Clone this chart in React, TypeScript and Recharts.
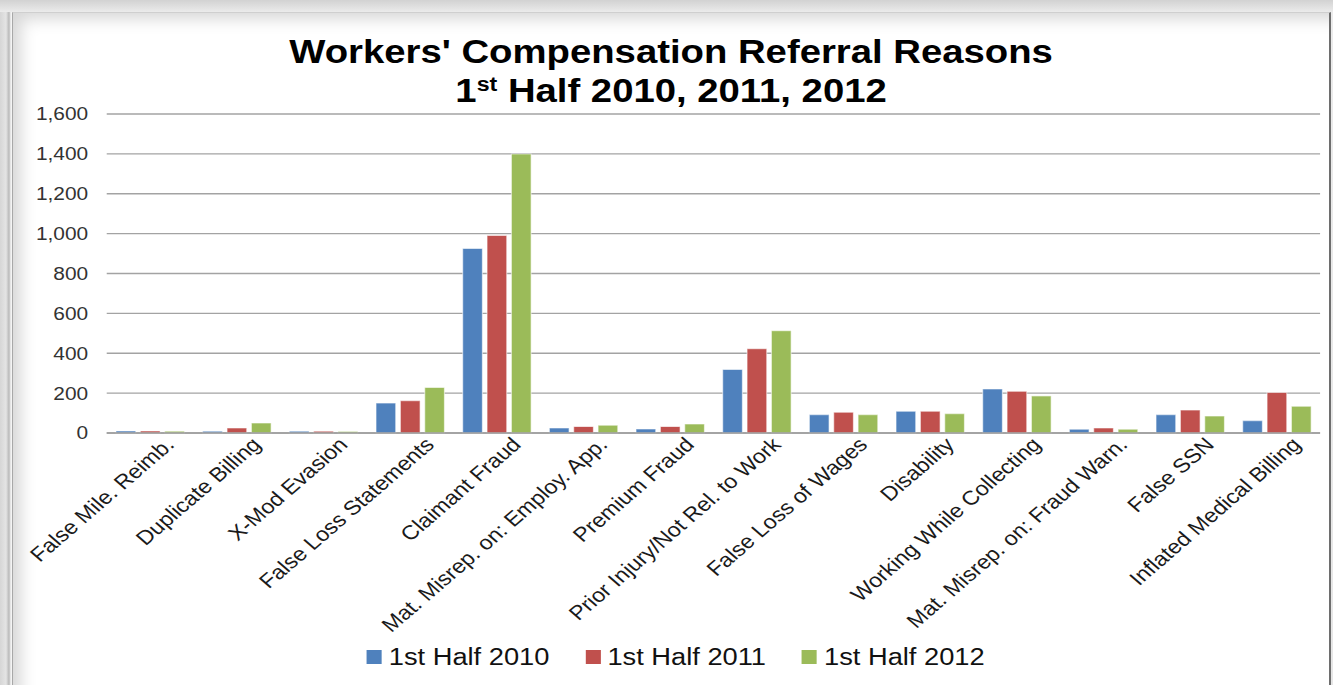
import React from 'react';
import { BarChart, Bar, XAxis, YAxis, CartesianGrid, Legend } from 'recharts';

const reasons = [
  'False Mile. Reimb.',
  'Duplicate Billing',
  'X-Mod Evasion',
  'False Loss Statements',
  'Claimant Fraud',
  'Mat. Misrep. on: Employ. App.',
  'Premium Fraud',
  'Prior Injury/Not Rel. to Work',
  'False Loss of Wages',
  'Disability',
  'Working While Collecting',
  'Mat. Misrep. on: Fraud Warn.',
  'False SSN',
  'Inflated Medical Billing',
];
const half2010 = [10, 9, 9, 150, 926, 25, 20, 318, 92, 109, 221, 19, 92, 62];
const half2011 = [10, 25, 9, 162, 991, 32, 32, 423, 104, 109, 209, 25, 115, 203];
const half2012 = [9, 50, 8, 228, 1400, 39, 45, 513, 92, 97, 186, 19, 85, 134];

const seriesKeys = ['h2010', 'h2011', 'h2012'];
const seriesNames = ['1st Half 2010', '1st Half 2011', '1st Half 2012'];
const seriesColors = ['#4F81BD', '#C0504D', '#9BBB59'];
const yTicks = [0, 200, 400, 600, 800, 1000, 1200, 1400, 1600];

const data = reasons.map((reason, i) => ({
  reason,
  h2010: half2010[i],
  h2011: half2011[i],
  h2012: half2012[i],
}));

// the source picture is stretched sideways, so the chart is drawn narrower and widened
const STRETCH = 1.16;
const W = 1333;
const H = 685;
const W0 = Math.round(W / STRETCH);
const FONT = '"Liberation Sans", Arial, sans-serif';

function ReasonTick({ x, y, payload }: any) {
  const ax = x + 17;
  const ay = y + 8;
  return (
    <text
      x={ax}
      y={ay}
      transform={`rotate(-45 ${ax} ${ay})`}
      textAnchor="end"
      dominantBaseline="central"
      fill="#1a1a1a"
      fontSize={20}
      fontFamily={FONT}
    >
      {payload.value}
    </text>
  );
}

function LegendContent() {
  return (
    <div
      style={{
        display: 'flex',
        justifyContent: 'center',
        alignItems: 'center',
        height: 40,
        gap: 31,
        fontFamily: FONT,
        fontSize: 23.5,
        color: '#111',
        paddingLeft: 16,
      }}
    >
      {seriesNames.map((name, i) => (
        <div key={name} style={{ display: 'flex', alignItems: 'center' }}>
          <span
            style={{
              display: 'inline-block',
              width: 13,
              height: 14,
              background: seriesColors[i],
              marginRight: 6,
            }}
          />
          <span>{name}</span>
        </div>
      ))}
    </div>
  );
}

export default function App() {
  return (
    <div
      style={{
        position: 'absolute',
        left: 0,
        top: 0,
        width: W,
        height: H,
        overflow: 'hidden',
        background: 'linear-gradient(to bottom, #d2d2d2 0px, #ebebeb 12px, #e6e6e6 100%)',
      }}
    >
      <div
        style={{
          position: 'absolute',
          left: 0,
          top: 12,
          width: 12,
          height: 700,
          background: 'linear-gradient(to right, #d6d6d6 0px, #e4e4e4 6px, #b9b9b9 9px, #f4f4f4 11px)',
        }}
      />
      <div
        style={{
          position: 'absolute',
          left: 12,
          top: 12,
          width: 1316,
          height: 700,
          background: '#fff',
          borderLeft: '1px solid #a8a8a8',
          borderTop: '1px solid #cfcfcf',
          borderRight: '2px solid #6e6e6e',
          boxShadow: 'inset 20px 18px 16px -12px rgba(0,0,0,0.16)',
        }}
      />
      <div
        style={{
          position: 'absolute',
          left: 0,
          top: 0,
          width: W0,
          height: H,
          transform: `scaleX(${STRETCH})`,
          transformOrigin: '0 0',
        }}
      >
        <div
          style={{
            position: 'absolute',
            left: 0,
            width: W0,
            top: 35,
            textAlign: 'center',
            fontFamily: FONT,
            fontWeight: 'bold',
            fontSize: 33,
            lineHeight: '33px',
            color: '#000',
            paddingLeft: 8,
            boxSizing: 'border-box',
          }}
        >
          Workers' Compensation Referral Reasons
        </div>
        <div
          style={{
            position: 'absolute',
            left: 0,
            width: W0,
            top: 74,
            textAlign: 'center',
            fontFamily: FONT,
            fontWeight: 'bold',
            fontSize: 33,
            lineHeight: '33px',
            color: '#000',
            paddingLeft: 8,
            boxSizing: 'border-box',
          }}
        >
          1<span style={{ fontSize: 20, position: 'relative', top: -11, lineHeight: 0 }}>st</span> Half 2010, 2011, 2012
        </div>
        <BarChart
          width={W0}
          height={H}
          data={data}
          margin={{ top: 114, right: W0 - 1138, bottom: 8, left: 0 }}
          barSize={17}
          barGap={4}
        >
          <CartesianGrid vertical={false} stroke="#a3a3a3" strokeWidth={1.3} />
          <XAxis
            dataKey="reason"
            interval={0}
            height={204}
            tickLine={false}
            tickSize={0}
            tickMargin={0}
            axisLine={{ stroke: '#9c9c9c', strokeWidth: 1.5 }}
            tick={<ReasonTick />}
          />
          <YAxis
            width={92}
            domain={[0, 1600]}
            ticks={yTicks}
            axisLine={false}
            tickLine={false}
            tickSize={0}
            tickMargin={16}
            tickFormatter={(v: number) => v.toLocaleString('en-US')}
            tick={{ fill: '#333', fontSize: 18, fontFamily: FONT }}
          />
          <Legend
            verticalAlign="bottom"
            wrapperStyle={{ left: 0, width: W0 }}
            content={<LegendContent />}
          />
          {seriesKeys.map((key, i) => (
            <Bar
              key={key}
              dataKey={key}
              name={seriesNames[i]}
              fill={seriesColors[i]}
              stroke="#ffffff"
              strokeOpacity={0.55}
              strokeWidth={1}
              isAnimationActive={false}
            />
          ))}
        </BarChart>
      </div>
    </div>
  );
}
